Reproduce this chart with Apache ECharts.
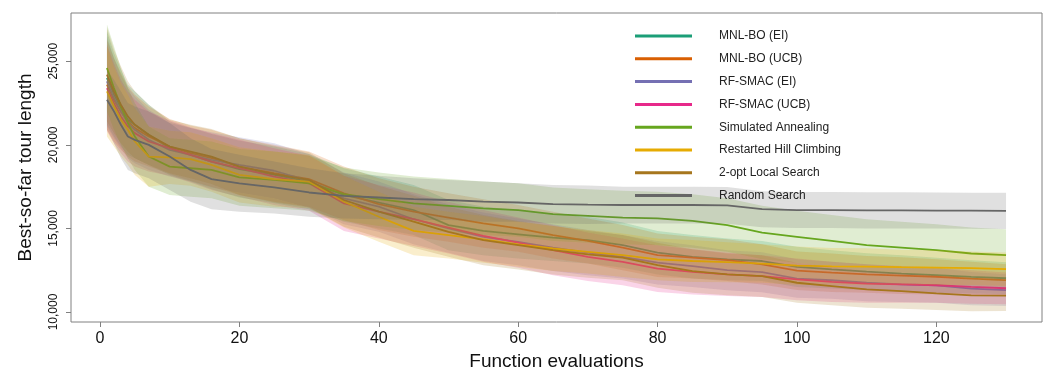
<!DOCTYPE html>
<html>
<head>
<meta charset="utf-8">
<script src="https://cdn.jsdelivr.net/npm/echarts@6/dist/echarts.min.js"></script>
<style>
  html, body { margin: 0; padding: 0; background: #fff; }
  #chart { width: 1045px; height: 370px; }
</style>
</head>
<body>
<div id="chart"></div>
<script>
// evaluation points
const xs = [1, 2, 3, 4, 5, 7, 10, 13, 16, 20, 25, 30, 35, 40, 45, 50, 55, 60, 65, 70, 75, 80, 85, 90, 95, 100, 105, 110, 115, 120, 125, 130];

// mean best-so-far tour length per method
const mnlboEI = [24000, 23000, 22200, 21500, 21200, 20600, 19800, 19400, 19000, 18550, 18200, 17800, 17000, 16550, 16100, 15200, 14850, 14650, 14450, 14300, 14000, 13550, 13300, 13150, 13050, 12700, 12550, 12420, 12300, 12200, 12100, 12020];
const mnlboUCB = [23600, 22700, 22000, 21400, 21000, 20500, 19900, 19500, 19200, 18700, 18300, 17950, 17100, 16450, 16000, 15650, 15300, 15000, 14600, 14250, 13850, 13400, 13250, 13100, 12850, 12470, 12350, 12250, 12180, 12110, 12000, 11910];
const rfsmacEI = [23800, 22800, 22000, 21300, 20900, 20300, 19700, 19400, 19100, 18800, 18450, 17850, 16800, 16300, 15550, 15000, 14500, 14200, 13850, 13550, 13300, 12950, 12750, 12500, 12380, 12000, 11900, 11750, 11650, 11600, 11400, 11310];
const rfsmacUCB = [23400, 22500, 21700, 21100, 20700, 20200, 19800, 19400, 19000, 18600, 18100, 17700, 16500, 16000, 15550, 15050, 14550, 14150, 13700, 13300, 13000, 12600, 12400, 12250, 12150, 11950, 11800, 11700, 11650, 11600, 11500, 11420];
const simAnneal = [24600, 23400, 22300, 21300, 20500, 19300, 18700, 18600, 18500, 18050, 17900, 17700, 17050, 16750, 16500, 16350, 16200, 16100, 15850, 15750, 15650, 15600, 15450, 15200, 14750, 14500, 14250, 14000, 13850, 13700, 13500, 13400];
const hillClimb = [23200, 22300, 21500, 20900, 20200, 19300, 19250, 19150, 18800, 18200, 17950, 17800, 16600, 15700, 14850, 14600, 14350, 14050, 13800, 13600, 13400, 13150, 13050, 12980, 12900, 12770, 12730, 12710, 12680, 12660, 12620, 12560];
const twoOpt = [24200, 23200, 22400, 21700, 21200, 20600, 19900, 19600, 19300, 18700, 18250, 17900, 16700, 16000, 15400, 14800, 14300, 14000, 13700, 13450, 13250, 12800, 12450, 12250, 12150, 11750, 11550, 11350, 11250, 11120, 11000, 10980];
const randomSearch = [22700, 22000, 21200, 20500, 20300, 20000, 19300, 18500, 17950, 17700, 17450, 17150, 16950, 16850, 16750, 16700, 16600, 16550, 16450, 16420, 16400, 16400, 16400, 16380, 16150, 16100, 16100, 16080, 16080, 16070, 16060, 16050];

// half-width of the shaded band per method
const spreadEI = [2800, 2500, 2300, 2100, 2000, 1800, 1600, 1600, 1650, 1700, 1700, 1650, 1600, 1550, 1500, 1500, 1450, 1450, 1400, 1400, 1350, 1300, 1300, 1250, 1200, 1200, 1150, 1100, 1100, 1050, 1000, 950];
const spreadUCB = [2700, 2500, 2300, 2100, 2000, 1800, 1650, 1650, 1700, 1700, 1700, 1650, 1600, 1550, 1500, 1450, 1450, 1400, 1400, 1350, 1350, 1300, 1250, 1250, 1200, 1150, 1150, 1100, 1100, 1050, 1000, 950];
const spreadRfEI = [2700, 2400, 2200, 2100, 2000, 1800, 1600, 1600, 1650, 1650, 1650, 1600, 1550, 1500, 1500, 1450, 1450, 1400, 1400, 1350, 1300, 1300, 1250, 1200, 1200, 1150, 1100, 1100, 1050, 1050, 1000, 950];
const spreadRfUCB = [2600, 2400, 2200, 2100, 2000, 1800, 1650, 1650, 1700, 1700, 1700, 1650, 1650, 1600, 1600, 1550, 1550, 1500, 1500, 1450, 1400, 1400, 1350, 1300, 1250, 1250, 1200, 1150, 1100, 1050, 1000, 950];
const spreadSA = [2600, 2500, 2300, 2100, 2000, 1800, 1700, 1700, 1700, 1700, 1700, 1650, 1600, 1600, 1600, 1600, 1600, 1600, 1600, 1600, 1600, 1600, 1600, 1600, 1600, 1550, 1550, 1550, 1550, 1550, 1550, 1550];
const spreadHC = [2700, 2400, 2200, 2100, 2000, 1800, 1600, 1600, 1600, 1650, 1650, 1600, 1550, 1500, 1450, 1400, 1400, 1350, 1350, 1300, 1300, 1250, 1250, 1200, 1150, 1150, 1100, 1100, 1050, 1050, 1000, 1000];
const spread2opt = [2800, 2500, 2300, 2100, 2000, 1800, 1600, 1600, 1650, 1700, 1700, 1650, 1600, 1550, 1550, 1500, 1500, 1450, 1450, 1400, 1350, 1350, 1300, 1250, 1250, 1200, 1150, 1100, 1050, 1000, 950, 920];
const spreadRandom = [1800, 1900, 2000, 2000, 2000, 2000, 2000, 1900, 1800, 1700, 1550, 1450, 1350, 1300, 1250, 1200, 1200, 1150, 1150, 1150, 1100, 1100, 1100, 1100, 1080, 1080, 1080, 1080, 1080, 1080, 1080, 1080];

const names = ['MNL-BO (EI)', 'MNL-BO (UCB)', 'RF-SMAC (EI)', 'RF-SMAC (UCB)', 'Simulated Annealing', 'Restarted Hill Climbing', '2-opt Local Search', 'Random Search'];
const colors = ['#1b9e77', '#d95f02', '#7570b3', '#e7298a', '#66a61e', '#e6ab02', '#a6761d', '#666666'];
const means = [mnlboEI, mnlboUCB, rfsmacEI, rfsmacUCB, simAnneal, hillClimb, twoOpt, randomSearch];
const spreads = [spreadEI, spreadUCB, spreadRfEI, spreadRfUCB, spreadSA, spreadHC, spread2opt, spreadRandom];

const xTicks = [0, 20, 40, 60, 80, 100, 120];
const yTicks = [10000, 15000, 20000, 25000];

const font = '"Liberation Sans", Arial, Helvetica, sans-serif';
const chart = echarts.init(document.getElementById('chart'));

// band first, then its line, per method (later bands sit over earlier lines)
const series = [];
names.forEach((name, i) => {
  const m = means[i], s = spreads[i];
  series.push({
    type: 'custom', name: 'band' + i, silent: true, clip: true, z: 2 * i + 1,
    data: [[xs[0], m[0]]],
    renderItem: (params, api) => {
      const upper = xs.map((x, j) => api.coord([x, m[j] + s[j]]));
      const lower = xs.map((x, j) => api.coord([x, m[j] - s[j]])).reverse();
      return {
        type: 'polygon',
        shape: { points: upper.concat(lower) },
        style: { fill: colors[i], opacity: 0.2 }
      };
    }
  });
  series.push({
    type: 'line', name: name, symbol: 'none', z: 2 * i + 2,
    lineStyle: { color: colors[i], width: 1.8 },
    itemStyle: { color: colors[i] },
    data: xs.map((x, j) => [x, m[j]])
  });
});

const option = {
  animation: false,
  textStyle: { fontFamily: font },
  grid: {
    left: 71, right: 3, top: 13, bottom: 48, outerBoundsMode: 'none',
    show: true, borderColor: '#808080', borderWidth: 1
  },
  legend: {
    orient: 'vertical', left: 630, top: 24, z: 40,
    icon: 'rect', itemWidth: 57, itemHeight: 3, itemGap: 8.8,
    selectedMode: false,
    textStyle: { fontSize: 12, color: '#222', lineHeight: 14, padding: [0, 0, 0, 22] },
    data: names
  },
  xAxis: {
    type: 'value', min: -4.16, max: 135.16,
    axisLine: { show: false, onZero: false },
    splitLine: { show: false },
    axisTick: { show: true, length: 5, lineStyle: { color: '#808080' }, customValues: xTicks },
    axisLabel: { customValues: xTicks, fontSize: 16, color: '#111', margin: 9 },
    name: 'Function evaluations', nameLocation: 'middle', nameGap: 29,
    nameTextStyle: { fontSize: 19, color: '#111' }
  },
  yAxis: {
    type: 'value', min: 9402, max: 27887,
    axisLine: { show: false, onZero: false },
    splitLine: { show: false },
    axisTick: { show: true, length: 5, lineStyle: { color: '#808080' }, customValues: yTicks },
    axisLabel: {
      customValues: yTicks, fontSize: 12, color: '#111', rotate: 90, margin: 11,
      formatter: v => String(v).replace(/\B(?=(\d{3})+(?!\d))/g, ',')
    },
    name: 'Best-so-far tour length', nameLocation: 'middle', nameGap: 36,
    nameTextStyle: { fontSize: 19, color: '#111' }
  },
  series: series
};

chart.setOption(option);
window.addEventListener('resize', () => chart.resize());
</script>
</body>
</html>
